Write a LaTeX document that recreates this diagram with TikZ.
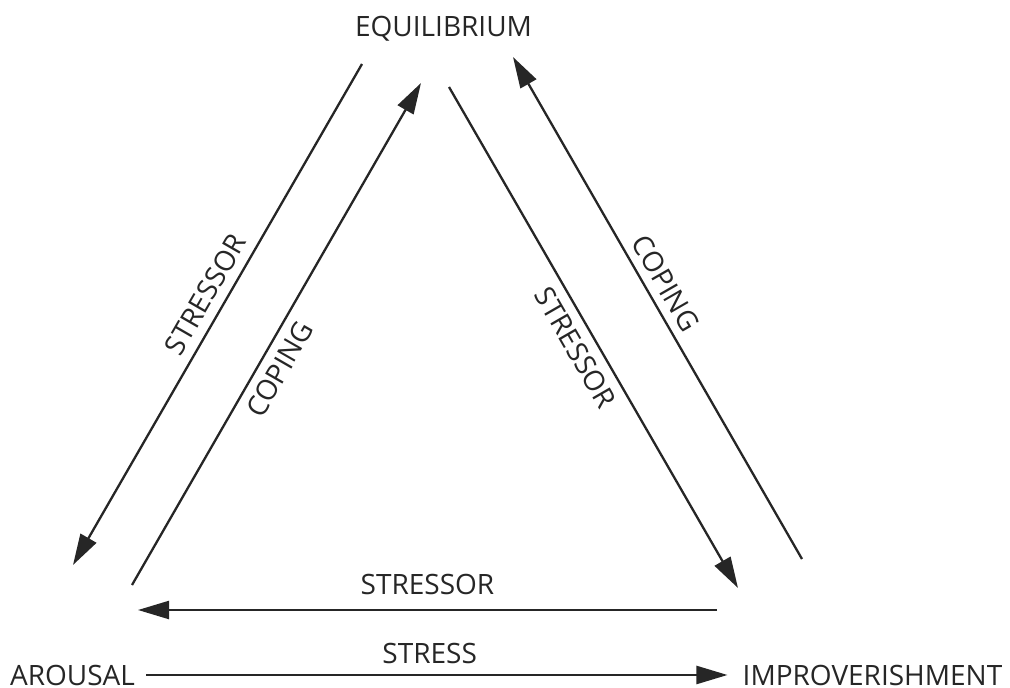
\documentclass[tikz,border=0pt]{standalone}
\usepackage{fontspec}
\setmainfont{Open Sans}
\usetikzlibrary{arrows.meta}
\begin{document}
\begin{tikzpicture}[x=1pt,y=-1pt,
  every node/.style={inner sep=0pt, font=\fontsize{28}{32}\selectfont, text=black!85},
  state/.style={anchor=base},
  link/.style={line width=2.3pt, draw=black!85,
    -{Triangle[length=31pt,width=18pt]}},
  lab/.style={sloped, midway}]
\useasboundingbox (0,0) rectangle (1010,688);

% states
\node[state] (equil) at (443.5,36) {EQUILIBRIUM};
\node[state] (arousal) at (72.5,685) {AROUSAL};
\node[state] (improv) at (872.5,685) {IMPROVERISHMENT};

% arrow ends
\coordinate (lsA) at (362,64);   \coordinate (lsB) at (73,565);
\coordinate (lcA) at (132,585);  \coordinate (lcB) at (421,83);
\coordinate (rsA) at (449,87);   \coordinate (rsB) at (738,588);
\coordinate (rcA) at (802,559);  \coordinate (rcB) at (513,57);
\coordinate (bsA) at (717,610);  \coordinate (bsB) at (138,610);

% left side
\draw[link] (lsA) -- node[lab, above=9pt, pos=0.48] {STRESSOR} (lsB);
\draw[link] (lcA) -- node[lab, below=9pt, pos=0.45] {COPING} (lcB);
% right side
\draw[link] (rsA) -- node[lab, below=9pt] {STRESSOR} (rsB);
\draw[link] (rcA) -- node[lab, above=8pt, pos=0.53] {COPING} (rcB);
% bottom
\draw[link] (bsA) -- node[lab, above=14pt] {STRESSOR} (bsB);
\draw[link, shorten <=11pt, shorten >=15pt] (arousal.east) -- node[lab, above=10pt, pos=0.485] {STRESS} (improv.west);
\end{tikzpicture}
\end{document}
